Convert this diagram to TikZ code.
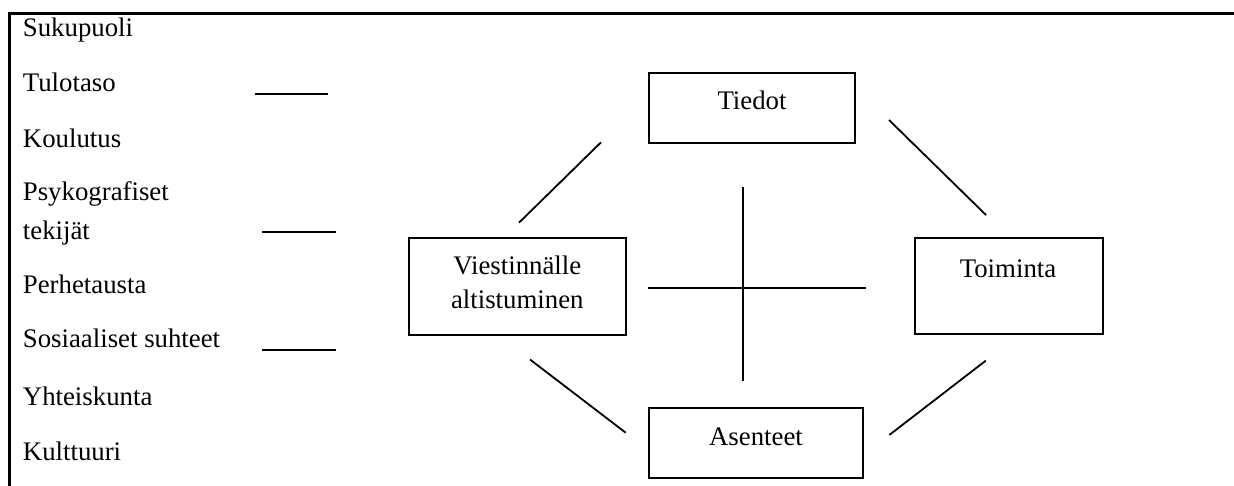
\documentclass[tikz,border=0pt]{standalone}
\usepackage{fontspec}
\setmainfont{Liberation Serif}

\tikzset{
    laatikko/.style={draw, line width=1.8pt, inner sep=0pt},
    teksti/.style={inner sep=0pt, font=\fontsize{26.8}{34}\selectfont},
    viiva/.style={line width=1.8pt}
}

\begin{document}
\begin{tikzpicture}[x=1pt, y=-1pt]
        \useasboundingbox (0,0) rectangle (1234,486);

        % kehys
        \coordinate (k1) at (8,13.5);
        \coordinate (k2) at (1234,13.5);
        \coordinate (k3) at (9.5,12);
        \coordinate (k4) at (9.5,486);
        \draw[line width=3pt] (k1) -- (k2);
        \draw[line width=3pt] (k3) -- (k4);

        % taustatekijät
        \foreach \y/\t [count=\i] in {37/Sukupuoli, 91.5/Tulotaso, 147.5/Koulutus,
            200.5/Psykografiset, 239.5/tekijät, 293.5/Perhetausta,
            347.5/Sosiaaliset suhteet, 405.5/Yhteiskunta, 460.5/Kulttuuri}
            {
                \node[teksti, anchor=base west] (t\i) at (22.7,\y) {\t};
            }

        % lyhyet viivat
        \foreach \xa/\xb/\y [count=\i] in {254.7/327.7/94, 262.3/336/232.3, 262.3/336/350.3}
            {
                \coordinate (va\i) at (\xa,\y);
                \coordinate (vb\i) at (\xb,\y);
                \draw[viiva] (va\i) -- (vb\i);
            }

        % laatikot
        \node[laatikko, minimum width=206pt, minimum height=70pt] (tiedot) at (752,108) {};
        \node[laatikko, minimum width=216.7pt, minimum height=96.7pt] (viest) at (517.3,286.7) {};
        \node[laatikko, minimum width=188.3pt, minimum height=96pt] (toim) at (1009.2,285.7) {};
        \node[laatikko, minimum width=214.3pt, minimum height=70pt] (asen) at (756.2,443.3) {};

        \node[teksti, anchor=base] (tiedot-t) at (752,109.5) {Tiedot};
        \node[teksti, align=center] (viest-t) at (517.3,282) {Viestinnälle\\altistuminen};
        \node[teksti, anchor=base] (toim-t) at (1008,277.5) {Toiminta};
        \node[teksti, anchor=base] (asen-t) at (756,445.5) {Asenteet};

        % yhteydet
        \coordinate (a1) at (519,222.7);
        \coordinate (b1) at (601,142.3);
        \coordinate (a2) at (889,120);
        \coordinate (b2) at (986,215);
        \coordinate (a3) at (530,359.5);
        \coordinate (b3) at (625.7,432.7);
        \coordinate (a4) at (889.3,435);
        \coordinate (b4) at (985.7,360.7);
        \coordinate (a5) at (743.3,187.3);
        \coordinate (b5) at (743.3,381);
        \coordinate (a6) at (648.3,288.3);
        \coordinate (b6) at (866,288.3);
        \foreach \i in {1,...,6}
            \draw[viiva] (a\i) -- (b\i);

    \end{tikzpicture}
\end{document}
